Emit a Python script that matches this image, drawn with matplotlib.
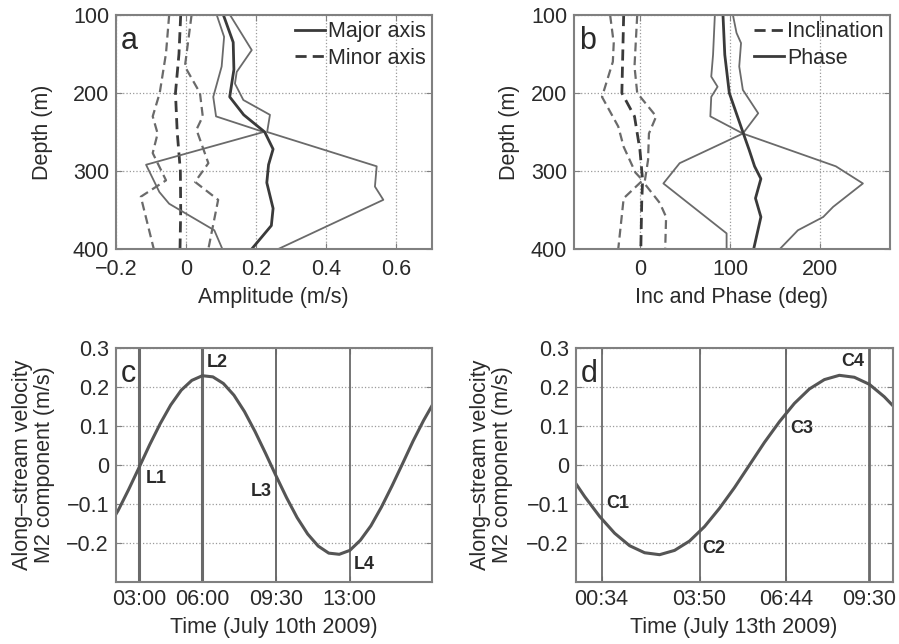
import numpy as np
import matplotlib
matplotlib.use('Agg')
import matplotlib.pyplot as plt

plt.rcParams['font.family'] = ['Liberation Sans', 'DejaVu Sans']
plt.rcParams['font.size'] = 15.5
plt.rcParams['text.color'] = '#2a2a2a'
plt.rcParams['axes.labelcolor'] = '#2a2a2a'
plt.rcParams['xtick.color'] = '#2a2a2a'
plt.rcParams['ytick.color'] = '#2a2a2a'

# ---- panel a : amplitude (m/s) vs depth ----
maj_mid_depth = [100, 135, 170, 205, 228, 250, 272, 292, 315, 348, 370, 400]
maj_mid = [0.107, 0.135, 0.137, 0.125, 0.165, 0.225, 0.249, 0.236, 0.231, 0.249, 0.244, 0.188]
maj_hi_depth = [100, 145, 173, 188, 209, 228, 250, 294, 320, 337, 400]
maj_hi = [0.126, 0.188, 0.145, 0.140, 0.164, 0.240, 0.232, 0.545, 0.540, 0.564, 0.264]
maj_lo_depth = [100, 128, 166, 205, 230, 250, 292, 327, 342, 376, 400]
maj_lo = [0.088, 0.109, 0.102, 0.078, 0.086, 0.222, -0.114, -0.076, -0.048, 0.081, 0.104]

min_mid_depth = [100, 150, 200, 250, 300, 350, 400]
min_mid = [-0.015, -0.020, -0.030, -0.025, -0.016, -0.015, -0.017]
min_lo_depth = [100, 149, 200, 230, 252, 277, 312, 333, 400]
min_lo = [-0.048, -0.057, -0.075, -0.095, -0.081, -0.095, -0.057, -0.129, -0.092]
min_hi_depth = [100, 166, 200, 230, 247, 290, 314, 337, 400]
min_hi = [0.016, -0.003, 0.040, 0.048, 0.030, 0.064, 0.026, 0.092, 0.064]

# ---- panel b : inclination and phase (deg) vs depth ----
inc_mid_depth = [100, 200, 230, 273, 312, 340, 400]
inc_mid = [-18, -20, -6, 0, 3, 2, 1]
inc_lo_depth = [100, 136, 160, 205, 243, 269, 302, 312, 335, 400]
inc_lo = [-33, -29, -30, -42, -24, -18, -5, 3, -18, -24]
inc_hi_depth = [100, 166, 200, 230, 252, 286, 316, 341, 359, 400]
inc_hi = [-3, -6, -3, 18, 10, 9, 5, 22, 29, 28]

ph_mid_depth = [100, 151, 200, 250, 273, 294, 310, 335, 359, 400]
ph_mid = [92, 94, 99, 114, 121, 127, 134, 128, 134, 126]
ph_lo_depth = [100, 151, 179, 192, 205, 230, 252, 290, 316, 380, 400]
ph_lo = [83, 81, 79, 86, 79, 78, 114, 44, 26, 96, 96]
ph_hi_depth = [100, 123, 136, 166, 196, 226, 252, 294, 316, 346, 359, 376, 400]
ph_hi = [103, 107, 112, 110, 114, 131, 114, 217, 247, 214, 203, 175, 155]

# ---- panel c : M2 along-stream velocity, July 10th 2009 (hours) ----
c_hours = [1.9, 2.0, 2.5, 3.0, 3.5, 4.0, 4.5, 5.0, 5.5, 6.0, 6.5, 7.0, 7.5, 8.0,
           8.5, 9.0, 9.5, 10.0, 10.5, 11.0, 11.5, 12.0, 12.5, 13.0, 13.5, 14.0,
           14.5, 15.0, 15.5, 16.0, 16.5, 16.9]
c_vel = [-0.126, -0.117, -0.063, -0.006, 0.052, 0.106, 0.154, 0.192, 0.217, 0.229,
         0.226, 0.209, 0.179, 0.137, 0.086, 0.030, -0.028, -0.084, -0.135, -0.177,
         -0.208, -0.226, -0.229, -0.219, -0.193, -0.156, -0.108, -0.054, 0.003,
         0.061, 0.114, 0.152]
c_marks = [3.0, 6.0, 9.5, 13.0]
c_ticklabels = ['03:00', '06:00', '09:30', '13:00']
c_names = ['L1', 'L2', 'L3', 'L4']
c_name_pos = [(3.3, -0.035), (6.23, 0.262), (8.3, -0.068), (13.19, -0.255)]

# ---- panel d : M2 along-stream velocity, July 13th 2009 (hours) ----
d_hours = [-0.3, 0.0, 0.5, 1.0, 1.5, 2.0, 2.5, 3.0, 3.5, 4.0, 4.5, 5.0, 5.5, 6.0,
           6.5, 7.0, 7.5, 8.0, 8.5, 9.0, 9.5, 10.0, 10.3]
d_vel = [-0.047, -0.081, -0.132, -0.175, -0.207, -0.225, -0.230, -0.219, -0.195,
         -0.158, -0.111, -0.058, 0.000, 0.058, 0.111, 0.158, 0.195, 0.219, 0.230,
         0.225, 0.207, 0.175, 0.151]
d_marks = [34 / 60, 3 + 50 / 60, 6 + 44 / 60, 9.5]
d_ticklabels = ['00:34', '03:50', '06:44', '09:30']
d_names = ['C1', 'C2', 'C3', 'C4']
d_name_pos = [(0.71, -0.10), (3.91, -0.214), (6.87, 0.094), (8.56, 0.265)]

DARK = '#3a3a3a'
GREY = '#6a6a6a'
SPINE = '#808080'


def style(ax):
    for s in ax.spines.values():
        s.set_color(SPINE)
        s.set_linewidth(1.5)
    ax.tick_params(direction='in', length=4, width=0.8, color=SPINE,
                   top=True, right=True, pad=5)
    ax.grid(True, linestyle=':', color='#9a9a9a', linewidth=0.9)
    ax.set_axisbelow(True)


fig = plt.figure(figsize=(8.99, 6.44), dpi=100)
ax_a = fig.add_axes([0.129, 0.6134, 0.3515, 0.3633])
ax_b = fig.add_axes([0.6385, 0.6134, 0.3515, 0.3633])
ax_c = fig.add_axes([0.129, 0.0963, 0.3515, 0.3633])
ax_d = fig.add_axes([0.6407, 0.0963, 0.3526, 0.3633])

dash = (4, 2.2)

# panel a
ax = ax_a
style(ax)
ax.tick_params(axis='x', pad=7.5)
ax.plot(min_lo, min_lo_depth, color=GREY, lw=1.6, dashes=dash)
ax.plot(min_hi, min_hi_depth, color=GREY, lw=1.6, dashes=dash)
ax.plot(min_mid, min_mid_depth, color=DARK, lw=2.0, dashes=dash, label='Minor axis')
ax.plot(maj_lo, maj_lo_depth, color=GREY, lw=1.3)
ax.plot(maj_hi, maj_hi_depth, color=GREY, lw=1.3)
ax.plot(maj_mid, maj_mid_depth, color=DARK, lw=2.0, label='Major axis')
ax.set_xlim(-0.2, 0.703)
ax.set_ylim(400, 100)
ax.set_xticks([-0.2, 0, 0.2, 0.4, 0.6])
ax.set_xticklabels(['\u22120.2', '0', '0.2', '0.4', '0.6'])
ax.set_yticks([100, 200, 300, 400])
ax.set_xlabel('Amplitude (m/s)')
ax.set_ylabel('Depth (m)')
ax.xaxis.set_label_coords(0.497, -0.162)
ax.yaxis.set_label_coords(-0.199, 0.5)
h, l = ax.get_legend_handles_labels()
ax.legend(h[::-1], l[::-1], loc='upper right', frameon=False, handlelength=1.4,
          handletextpad=0.12, labelspacing=0.25, borderaxespad=0.1, borderpad=0.2)
ax.text(0.015, 0.955, 'a', transform=ax.transAxes, fontsize=22, va='top', ha='left')

# panel b
ax = ax_b
style(ax)
ax.tick_params(axis='x', pad=7.5)
ax.plot(inc_lo, inc_lo_depth, color=GREY, lw=1.6, dashes=dash)
ax.plot(inc_hi, inc_hi_depth, color=GREY, lw=1.6, dashes=dash)
ax.plot(inc_mid, inc_mid_depth, color=DARK, lw=2.0, dashes=dash, label='Inclination')
ax.plot(ph_lo, ph_lo_depth, color=GREY, lw=1.3)
ax.plot(ph_hi, ph_hi_depth, color=GREY, lw=1.3)
ax.plot(ph_mid, ph_mid_depth, color=DARK, lw=2.0, label='Phase')
ax.set_xlim(-73, 277)
ax.set_ylim(400, 100)
ax.set_xticks([0, 100, 200])
ax.set_yticks([100, 200, 300, 400])
ax.set_xlabel('Inc and Phase (deg)')
ax.set_ylabel('Depth (m)')
ax.xaxis.set_label_coords(0.499, -0.162)
ax.yaxis.set_label_coords(-0.171, 0.5)
ax.legend(loc='upper right', frameon=False, handlelength=1.4,
          handletextpad=0.12, labelspacing=0.25, borderaxespad=0.1, borderpad=0.2)
ax.text(0.015, 0.955, 'b', transform=ax.transAxes, fontsize=22, va='top', ha='left')

# panels c and d
for ax, hrs, vel, marks, tlabels, names, npos, xlim, letter, day, widths in [
        (ax_c, c_hours, c_vel, c_marks, c_ticklabels, c_names, c_name_pos,
         (1.9, 16.9), 'c', 'July 10th 2009', [2.2, 2.2, 1.4, 1.3]),
        (ax_d, d_hours, d_vel, d_marks, d_ticklabels, d_names, d_name_pos,
         (-0.29, 10.29), 'd', 'July 13th 2009', [1.3, 1.3, 1.4, 2.0])]:
    style(ax)
    ax.grid(True, axis='y', linestyle=':', color='#9a9a9a', linewidth=0.9)
    ax.grid(False, axis='x')
    for m, w in zip(marks, widths):
        ax.axvline(m, color=GREY, lw=w)
    ax.plot(hrs, vel, color='#555555', lw=2.2)
    for name, (tx, ty) in zip(names, npos):
        ax.text(tx, ty, name, fontsize=13, fontweight='bold', va='center', ha='left')
    ax.set_xlim(*xlim)
    ax.set_ylim(-0.3, 0.3)
    ax.set_xticks(marks)
    ax.set_xticklabels(tlabels)
    ax.set_yticks([-0.2, -0.1, 0, 0.1, 0.2, 0.3])
    ax.set_yticklabels(['\u22120.2', '\u22120.1', '0', '0.1', '0.2', '0.3'])
    ax.set_xlabel('Time (' + day + ')')
    ax.set_ylabel('Along\u2013stream velocity\nM2 component (m/s)', linespacing=1.05)
    ax.text(0.015, 0.955, letter, transform=ax.transAxes, fontsize=22, va='top', ha='left')

ax_c.xaxis.set_label_coords(0.5, -0.148)
ax_c.yaxis.set_label_coords(-0.193, 0.5)
ax_d.xaxis.set_label_coords(0.498, -0.148)
ax_d.yaxis.set_label_coords(-0.199, 0.5)

fig.savefig('out.png', dpi=100)
